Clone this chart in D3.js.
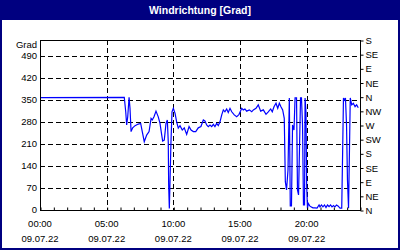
<!DOCTYPE html>
<html>
<head>
<meta charset="utf-8">
<script src="https://cdn.jsdelivr.net/npm/d3@7"></script>
<style>
  body { margin: 0; background: #fff; }
  text { font-family: "Liberation Sans", Arial, sans-serif; }
</style>
</head>
<body>
<div id="chart"></div>
<script>
// values: hour of day and wind direction in degrees
const hours = [0, 6.32, 6.43, 6.5, 6.58, 6.68, 6.75, 6.83, 6.95, 7.13, 7.37, 7.55, 7.67, 7.82, 8.0, 8.18,
  8.33, 8.42, 8.55, 8.7, 8.87, 9.0, 9.13, 9.2, 9.32, 9.45, 9.55, 9.62, 9.65, 9.7, 9.75, 9.82, 9.9,
  10.0, 10.13, 10.25, 10.37, 10.5, 10.67, 10.82, 11.0, 11.18, 11.33, 11.5, 11.68, 11.87, 12.07,
  12.25, 12.37, 12.5, 12.62, 12.75, 12.88, 13.0, 13.12, 13.25, 13.37, 13.5, 13.63, 13.75, 13.87,
  14.0, 14.12, 14.25, 14.38, 14.57, 14.75, 14.93, 15.13, 15.25, 15.37, 15.5, 15.7, 15.88, 16.0,
  16.2, 16.37, 16.55, 16.75, 16.95, 17.12, 17.3, 17.42, 17.55, 17.7, 17.83, 17.95, 18.07, 18.2,
  18.32, 18.4, 18.49, 18.6, 18.7, 18.77, 18.86, 18.94, 19.05, 19.13, 19.24, 19.31, 19.39, 19.46,
  19.54, 19.61, 19.69, 19.76, 19.84, 19.88, 19.95, 20.0, 20.06, 20.12, 20.23, 20.32, 20.47, 20.62,
  20.78, 20.93, 21.0, 21.11, 21.22, 21.34, 21.45, 21.56, 21.68, 21.79, 21.9, 22.01, 22.12, 22.24,
  22.35, 22.5, 22.63, 22.7, 22.76, 22.84, 22.91, 22.99, 23.06, 23.14, 23.21, 23.27, 23.38, 23.5,
  23.63, 23.75, 23.87];
const direction = [357, 358, 312, 270, 296, 358, 323, 249, 261, 268, 273, 275, 249, 217, 238, 249,
  291, 286, 296, 314, 296, 275, 238, 219, 222, 275, 286, 217, 79, 5, 90, 212, 312,
  323, 307, 280, 260, 268, 254, 261, 240, 265, 254, 249, 249, 261, 265,
  286, 283, 270, 265, 270, 265, 272, 265, 275, 268, 280, 302, 318, 312,
  321, 310, 323, 312, 302, 296, 304, 323, 318, 321, 314, 318, 312, 318,
  323, 334, 314, 318, 304, 312, 321, 312, 328, 339, 323, 339, 328, 318,
  291, 90, 64, 127, 356, 13, 13, 270, 254, 356, 356, 64, 48, 191,
  356, 356, 270, 16, 16, 356, 311, 79, 6, 21, 13, 10, 7, 7,
  6, 16, 10, 16, 10, 16, 8, 16, 11, 16, 10, 14, 10, 16,
  13, 6, 6, 191, 356, 349, 356, 270, 95, 6, 191, 356, 334, 339,
  328, 334, 325];

const yTicks = [0, 70, 140, 210, 280, 350, 420, 490];
const xTicks = [0, 5, 10, 15, 20];
const dateLabel = "09.07.22";
const compassTicks = [0, 45, 90, 135, 180, 225, 270, 315, 360, 405, 450, 495, 540];
const compassLabels = ["N", "NE", "E", "SE", "S", "SW", "W", "NW", "N", "NE", "E", "SE", "S"];

const width = 400, height = 250;
const plot = { left: 40, right: 360, top: 40, bottom: 210 };

const svg = d3.select("#chart").append("svg")
  .attr("width", width)
  .attr("height", height);

// frame of the whole picture and the title bar
svg.append("rect")
  .attr("x", 1).attr("y", 1)
  .attr("width", width - 2).attr("height", height - 2)
  .attr("fill", "#fff")
  .attr("stroke", "#000080")
  .attr("stroke-width", 2);

svg.append("rect")
  .attr("x", 0).attr("y", 0)
  .attr("width", width).attr("height", 20)
  .attr("fill", "#000080");

svg.append("text")
  .attr("x", width / 2)
  .attr("y", 14)
  .attr("text-anchor", "middle")
  .attr("fill", "#fff")
  .style("font-size", "10.5px")
  .style("font-weight", "bold")
  .text("Windrichtung [Grad]");

const x = d3.scaleLinear().domain([0, 24]).range([plot.left, plot.right]);
const y = d3.scaleLinear().domain([0, 540]).range([plot.bottom, plot.top]);

// dashed grid
svg.append("g")
  .selectAll("line")
  .data(yTicks.filter(d => d > 0))
  .enter().append("line")
    .attr("x1", plot.left).attr("x2", plot.right)
    .attr("y1", d => Math.round(y(d)) + 0.5).attr("y2", d => Math.round(y(d)) + 0.5)
    .attr("stroke", "#000")
    .attr("stroke-dasharray", "5,3");

svg.append("g")
  .selectAll("line")
  .data(xTicks.filter(d => d > 0))
  .enter().append("line")
    .attr("x1", d => Math.round(x(d)) + 0.5).attr("x2", d => Math.round(x(d)) + 0.5)
    .attr("y1", plot.top).attr("y2", plot.bottom)
    .attr("stroke", "#000")
    .attr("stroke-dasharray", "5,3");

// data line
const line = d3.line()
  .x((d, i) => x(hours[i]))
  .y(d => y(d));

svg.append("path")
  .datum(direction)
  .attr("fill", "none")
  .attr("stroke", "#0000ff")
  .attr("stroke-width", 1.2)
  .attr("d", line);

// plot frame
svg.append("rect")
  .attr("x", plot.left + 0.5).attr("y", plot.top + 0.5)
  .attr("width", plot.right - plot.left).attr("height", plot.bottom - plot.top)
  .attr("fill", "none")
  .attr("stroke", "#000");

// hourly ticks on the bottom axis, pointing inwards
svg.append("g")
  .attr("transform", `translate(0.5,${plot.bottom + 0.5})`)
  .call(d3.axisBottom(x).ticks(24).tickSize(-3).tickFormat(""))
  .call(g => g.select(".domain").remove());

// left labels
svg.append("g")
  .selectAll("text")
  .data(yTicks)
  .enter().append("text")
    .attr("x", 37)
    .attr("y", d => y(d))
    .attr("dy", "0.35em")
    .attr("text-anchor", "end")
    .style("font-size", "9.5px")
    .text(d => d);

svg.append("text")
  .attr("x", 37)
  .attr("y", 48)
  .attr("text-anchor", "end")
  .style("font-size", "9.5px")
  .text("Grad");

// right compass axis
svg.append("g")
  .attr("transform", `translate(${plot.right + 0.5},0.5)`)
  .call(d3.axisRight(y).tickValues(compassTicks).tickSize(3).tickPadding(2)
    .tickFormat((d, i) => compassLabels[i]))
  .call(g => g.select(".domain").remove())
  .call(g => g.selectAll("text")
    .style("font-family", "Liberation Sans, Arial, sans-serif")
    .style("font-size", "9.5px")
    .attr("fill", "#000"));

// bottom labels: time and date
const xl = svg.append("g").selectAll("g")
  .data(xTicks)
  .enter().append("g")
    .attr("transform", d => `translate(${x(d)},0)`);

xl.append("text")
  .attr("y", 227)
  .attr("text-anchor", "middle")
  .style("font-size", "9.5px")
  .text(d => String(d).padStart(2, "0") + ":00");

xl.append("text")
  .attr("y", 242)
  .attr("text-anchor", "middle")
  .style("font-size", "9.5px")
  .text(dateLabel);
</script>
</body>
</html>
